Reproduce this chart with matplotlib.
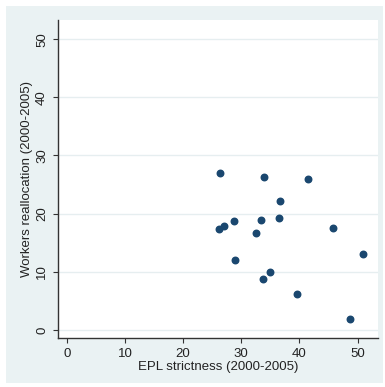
import matplotlib
matplotlib.use('Agg')
import matplotlib.pyplot as plt
from matplotlib.patches import Rectangle

# EPL strictness vs workers reallocation, 2000-2005
epl = [26.4, 33.9, 41.5, 36.7, 26.1, 27.0, 28.8, 33.4, 36.4, 32.6,
       45.7, 29.0, 51.0, 33.8, 35.0, 39.6, 48.7]
realloc = [26.9, 26.3, 25.9, 22.2, 17.3, 17.9, 18.8, 18.9, 19.3, 16.7,
           17.6, 12.1, 13.0, 8.8, 9.9, 6.25, 1.8]
ticks = [0, 10, 20, 30, 40, 50]

plt.rcParams['font.family'] = ['Liberation Sans', 'DejaVu Sans']

W, H = 385, 387
fig = plt.figure(figsize=(W / 100, H / 100), dpi=100)
fig.patch.set_facecolor('white')
# stata style light blue graph region
fig.patches.append(Rectangle((6 / W, 4 / H), 377 / W, 377 / H, transform=fig.transFigure,
                             facecolor='#eaf2f3', edgecolor='none', zorder=-10))

ax = fig.add_axes([58 / W, (H - 338) / H, 320 / W, 318 / H])
ax.set_zorder(5)
ax.set_facecolor('white')
ax.scatter(epl, realloc, s=22, color='#1a476f', zorder=3)

ax.set_xlim(-1.5, 53.5)
ax.set_ylim(-1.4, 53.3)
ax.set_xticks(ticks)
ax.set_yticks(ticks)
ax.set_yticklabels([str(t) for t in ticks], rotation=90, va='center')
ax.yaxis.grid(True, color='#e6eef0', linewidth=1.0)
ax.set_axisbelow(True)
ax.spines['top'].set_visible(False)
ax.spines['right'].set_visible(False)
for s in ['left', 'bottom']:
    ax.spines[s].set_color('#333333')
    ax.spines[s].set_linewidth(1.0)
ax.tick_params(colors='#333333', labelcolor='#222222', labelsize=9.5, length=3.6, width=0.8)
ax.set_xlabel('EPL strictness (2000-2005)', fontsize=9.5, color='#222222', labelpad=1)
ax.set_ylabel('Workers reallocation (2000-2005)', fontsize=9.5, color='#222222', labelpad=2)

fig.savefig('out.png', dpi=100)
